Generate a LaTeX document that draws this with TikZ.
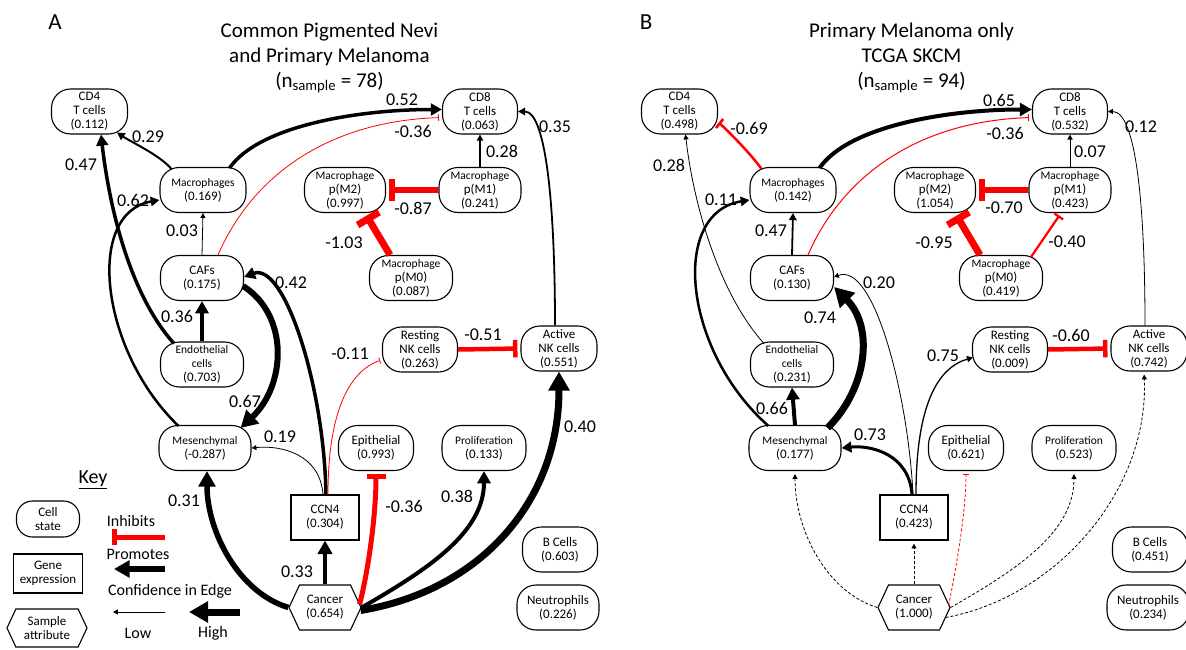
\documentclass[tikz,border=0pt]{standalone}
\usepackage{fontspec}
\setmainfont{Carlito}
\usetikzlibrary{arrows.meta,calc,shapes.symbols}
\newcommand\nfn{\fontsize{13}{14}\selectfont}
\newcommand\nfs{\fontsize{11.5}{14}\selectfont}
\newcommand\lfn{\fontsize{18}{18}\selectfont}
\newcommand\kfn{\fontsize{16}{16}\selectfont}
\newcommand\tfn{\fontsize{21}{25}\selectfont}
\tikzset{
 cell/.style={draw, line width=1.1pt, rounded corners=19pt, minimum height=45pt, inner sep=0.5pt, align=center, font=\nfn},
 gene/.style={draw, line width=1.3pt, minimum height=45pt, inner sep=0.5pt, align=center, font=\nfn},
 attr/.style={draw, line width=1.1pt, signal, signal to=east and west, signal pointer angle=130, minimum height=45pt, inner sep=0.5pt, align=center, font=\nfn},
 lab/.style={font=\lfn, inner sep=0pt},
 keytext/.style={font=\kfn, inner sep=0pt},
 pro/.style={line width=#1, -{Triangle[length=3pt 2.3, width=3pt 2.5]}},
 inh/.style={red, line width=#1, -{Bar[width=4pt 3]}, shorten >=3pt},
 dsh/.style={dash pattern=on 3pt off 2pt},
 ttl/.style={font=\tfn, anchor=base, inner sep=0pt},
}
\begin{document}
\begin{tikzpicture}[x=1pt,y=-1pt]
\useasboundingbox (0,0) rectangle (1186,650);
\fill[white] (0,0) rectangle (1186,650);
% ================= Panel A =================
\node[font=\fontsize{23}{23}\selectfont, anchor=base, inner sep=0pt] (aLet) at (55,30) {A};
\node[ttl] (aT1) at (329.5,37.7) {Common Pigmented Nevi};
\node[ttl] (aT2) at (329.5,62.3) {and Primary Melanoma};
\node[ttl] (aT3) at (329.5,87.7) {(n\textsubscript{sample} = 78)};

\node[cell, minimum width=76pt] (aCD4) at (89.5,111.5) {CD4\\T cells\\(0.112)};
\node[cell, minimum width=75pt] (aCD8) at (480,111.5) {CD8\\T cells\\(0.063)};
\node[cell, minimum width=86pt] (aMac) at (203,190) {{\nfs Macrophages}\\(0.169)};
\node[cell, minimum width=81pt] (aM2) at (345,190) {{\nfs Macrophage}\\p(M2)\\(0.997)};
\node[cell, minimum width=82pt] (aM1) at (480,190) {{\nfs Macrophage}\\p(M1)\\(0.241)};
\node[cell, minimum width=83pt] (aCAF) at (202,278) {CAFs\\(0.175)};
\node[cell, minimum width=83pt] (aM0) at (411,278) {{\nfs Macrophage}\\p(M0)\\(0.087)};
\node[cell, minimum width=83pt] (aEndo) at (202,364.5) {{\nfs Endothelial}\\{\nfs cells}\\(0.703)};
\node[cell, minimum width=75pt] (aRNK) at (420,349.5) {Resting\\NK cells\\(0.263)};
\node[cell, minimum width=76pt] (aANK) at (559,348.5) {Active\\NK cells\\(0.551)};
\node[cell, minimum width=92pt] (aMes) at (205,448) {{\nfs Mesenchymal}\\(-0.287)};
\node[cell, minimum width=75pt] (aEpi) at (376,448) {Epithelial\\(0.993)};
\node[cell, minimum width=84pt] (aPro) at (484,448) {{\nfs Proliferation}\\(0.133)};
\node[gene, minimum width=68pt] (aCCN) at (325,517.5) {CCN4\\(0.304)};
\node[attr, minimum width=72pt] (aCan) at (325,607.5) {Cancer\\(0.654)};
\node[cell, minimum width=75pt] (aB) at (560,549.5) {B Cells\\(0.603)};
\node[cell, minimum width=82pt] (aNeu) at (558,607.5) {Neutrophils\\(0.226)};

\draw[pro=2pt] ($(aMac.north west)+(12,2)$) .. controls +(-12,-14) and +(15,10) .. ($(aCD4.south east)+(-11,-2)$);
\draw[pro=3.5pt] ($(aEndo.north west)+(14,2)$) .. controls +(-45,-50) and +(8,70) .. ($(aCD4.south)+(11.5,0)$);
\draw[pro=2.5pt] ($(aMes.north west)+(20,1)$) .. controls +(-78,-75) and +(-75,13) .. ($(aMac.west)+(0,10)$);
\draw[pro=0.8pt] (aCAF.north) -- (aMac.south);
\draw[pro=3.5pt] ($(aMac.north east)+(-17,1)$) .. controls +(30,-43) and +(-81,0) .. ($(aCD8.west)+(0,-2)$);
\draw[inh=0.8pt] ($(aCAF.north)+(16,0)$) .. controls +(32,-74) and +(-120,4) .. ($(aCD8.west)+(0,6)$);
\draw[pro=1.3pt] (aM1.north) -- (aCD8.south);
\draw[pro=1.8pt] ($(aANK.north)+(-4,0)$) .. controls +(0,-120) and +(28,0) .. (aCD8.east);
\draw[inh=6pt] (aM1.west) -- (aM2.east);
\draw[inh=7pt] ($(aM0.north)+(-21,0)$) -- ($(aM2.south)+(20,0)$);
\draw[pro=4pt] (aEndo.north) -- (aCAF.south);
\draw[pro=6pt] ($(aCAF.east)+(-1,8)$) .. controls +(47,30) and +(45,-42) .. ($(aMes.north east)+(-11,3)$);
\draw[pro=3.5pt] ($(aCCN.north)+(1,0)$) .. controls +(-2,-110) and +(40,-15) .. ($(aCAF.east)+(0,-1)$);
\draw[pro=0.8pt] ($(aCCN.north)+(-2,0)$) .. controls +(-3,-40) and +(30,-3) .. (aMes.east);
\draw[inh=0.8pt] ($(aCCN.north)+(3,0)$) .. controls +(0,-80) and +(-35,12) .. ($(aRNK.west)+(1,10)$);
\draw[inh=4.5pt] (aRNK.east) -- (aANK.west);
\draw[pro=7pt] ($(aCan.east)+(-1,3)$) .. controls +(120,-20) and +(0,130) .. (aANK.south);
\draw[inh=5pt] ($(aCan.east)+(-2,-3)$) .. controls +(10,-40) and +(0,40) .. (aEpi.south);
\draw[pro=4pt] (aCan.east) .. controls +(70,-40) and +(0,60) .. (aPro.south);
\draw[pro=4.5pt] (aCan.north) -- (aCCN.south);
\draw[pro=5.5pt] (aCan.west) .. controls +(-50,-15) and +(0,60) .. ($(aMes.south)+(2,0)$);

\node[lab] (la1) at (148,137) {0.29};
\node[lab] (la2) at (81,165) {0.47};
\node[lab] (la3) at (133,200) {0.62};
\node[lab] (la4) at (182,231) {0.03};
\node[lab] (la5) at (402,100) {0.52};
\node[lab] (la6) at (413,131) {-0.36};
\node[lab] (la7) at (502,151) {0.28};
\node[lab] (la8) at (555,127) {0.35};
\node[lab] (la9) at (413,208) {-0.87};
\node[lab] (la10) at (344,243) {-1.03};
\node[lab] (la11) at (177,316) {0.36};
\node[lab] (la12) at (350,354) {-0.11};
\node[lab] (la13) at (483,335) {-0.51};
\node[lab] (la14) at (291,283) {0.42};
\node[lab] (la15) at (245,401) {0.67};
\node[lab] (la16) at (280,437) {0.19};
\node[lab] (la17) at (184,501) {0.31};
\node[lab] (la18) at (404,506) {-0.36};
\node[lab] (la19) at (457,496) {0.38};
\node[lab] (la20) at (297,572) {0.33};
\node[lab] (la21) at (580,427) {0.40};

% ================= Key =================
\node[font=\fontsize{20}{20}\selectfont, inner sep=0pt] (kKey) at (93,480) {\underline{Key}};
\node[cell, minimum width=63pt, minimum height=36pt, rounded corners=16pt] (kCell) at (48,519) {Cell\\state};
\node[gene, minimum width=69pt, minimum height=39pt] (kGene) at (48,573.5) {Gene\\expression};
\node[attr, minimum width=80pt, minimum height=38pt] (kAttr) at (47,628) {Sample\\attribute};
\node[keytext] (kInh) at (131,521) {Inhibits};
\coordinate (kI1) at (165,537); \coordinate (kI2) at (112,537);
\draw[red, line width=5pt, -{Bar[width=16pt]}] (kI1) -- (kI2);
\node[keytext] (kPro) at (138,554) {Promotes};
\coordinate (kP1) at (165,569); \coordinate (kP2) at (114,569);
\draw[pro=5.5pt] (kP1) -- (kP2);
\node[keytext] (kConf) at (170,591) {Confidence in Edge};
\coordinate (kL1) at (165,612); \coordinate (kL2) at (113,612);
\draw[pro=0.8pt] (kL1) -- (kL2);
\coordinate (kH1) at (240,612); \coordinate (kH2) at (189,612);
\draw[pro=7pt] (kH1) -- (kH2);
\node[keytext] (kLow) at (138,633) {Low};
\node[keytext] (kHigh) at (213,633) {High};

% ================= Panel B =================
\node[font=\fontsize{23}{23}\selectfont, anchor=base, inner sep=0pt] (bLet) at (646,30) {B};
\node[ttl] (bT1) at (911.5,37.7) {Primary Melanoma only};
\node[ttl] (bT2) at (911.5,62.3) {TCGA SKCM};
\node[ttl] (bT3) at (911.5,87.7) {(n\textsubscript{sample} = 94)};

\node[cell, minimum width=76pt] (bCD4) at (679.5,111.5) {CD4\\T cells\\(0.498)};
\node[cell, minimum width=75pt] (bCD8) at (1070,111.5) {CD8\\T cells\\(0.532)};
\node[cell, minimum width=86pt] (bMac) at (793,190) {{\nfs Macrophages}\\(0.142)};
\node[cell, minimum width=81pt] (bM2) at (935,190) {{\nfs Macrophage}\\p(M2)\\(1.054)};
\node[cell, minimum width=82pt] (bM1) at (1070,190) {{\nfs Macrophage}\\p(M1)\\(0.423)};
\node[cell, minimum width=83pt] (bCAF) at (792,278) {CAFs\\(0.130)};
\node[cell, minimum width=83pt] (bM0) at (1001,278) {{\nfs Macrophage}\\p(M0)\\(0.419)};
\node[cell, minimum width=83pt] (bEndo) at (792,364.5) {{\nfs Endothelial}\\{\nfs cells}\\(0.231)};
\node[cell, minimum width=75pt] (bRNK) at (1010,349.5) {Resting\\NK cells\\(0.009)};
\node[cell, minimum width=76pt] (bANK) at (1149,348.5) {Active\\NK cells\\(0.742)};
\node[cell, minimum width=92pt] (bMes) at (795,448) {{\nfs Mesenchymal}\\(0.177)};
\node[cell, minimum width=75pt] (bEpi) at (966,448) {Epithelial\\(0.621)};
\node[cell, minimum width=84pt] (bPro) at (1074,448) {{\nfs Proliferation}\\(0.523)};
\node[gene, minimum width=68pt] (bCCN) at (914,517.5) {CCN4\\(0.423)};
\node[attr, minimum width=72pt] (bCan) at (914,607.5) {Cancer\\(1.000)};
\node[cell, minimum width=75pt] (bB) at (1150,549.5) {B Cells\\(0.451)};
\node[cell, minimum width=82pt] (bNeu) at (1148,607.5) {Neutrophils\\(0.234)};

\draw[inh=2.5pt, shorten >=2pt] ($(bMac.north west)+(12,2)$) .. controls +(-8,-12) and +(10,8) .. ($(bCD4.east)+(-1,10)$);
\draw[pro=0.8pt] ($(bEndo.north west)+(14,2)$) .. controls +(-45,-50) and +(8,70) .. ($(bCD4.south)+(6,0)$);
\draw[pro=2.5pt] ($(bMes.north west)+(20,1)$) .. controls +(-85,-75) and +(-80,13) .. ($(bMac.west)+(0,10)$);
\draw[pro=1.8pt] (bCAF.north) -- (bMac.south);
\draw[pro=4pt] ($(bMac.north east)+(-17,1)$) .. controls +(30,-43) and +(-81,0) .. ($(bCD8.west)+(0,-2)$);
\draw[inh=1pt] ($(bCAF.north)+(16,0)$) .. controls +(32,-74) and +(-120,4) .. ($(bCD8.west)+(0,6)$);
\draw[pro=0.9pt] (bM1.north) -- (bCD8.south);
\draw[pro=0.8pt] ($(bANK.north)+(-4,0)$) .. controls +(0,-120) and +(28,0) .. (bCD8.east);
\draw[inh=6pt] (bM1.west) -- (bM2.east);
\draw[inh=7pt] ($(bM0.north)+(-21,0)$) -- ($(bM2.south)+(20,0)$);
\draw[inh=2.2pt] ($(bM0.north east)+(-12,2)$) -- ($(bM1.south)+(-9,0)$);
\draw[pro=4pt] (bMes.north) -- (bEndo.south);
\draw[pro=7pt] ($(bMes.north east)+(-14,3)$) .. controls +(40,-40) and +(40,40) .. ($(bCAF.east)+(0,9)$);
\draw[pro=0.8pt] ($(bCCN.north)+(-1,0)$) .. controls +(-5,-100) and +(40,-15) .. ($(bCAF.east)+(0,-1)$);
\draw[pro=3pt] ($(bCCN.north)+(-2,0)$) .. controls +(-3,-40) and +(30,-3) .. (bMes.east);
\draw[pro=1.3pt] ($(bCCN.north)+(2,0)$) .. controls +(0,-90) and +(-35,10) .. ($(bRNK.west)+(1,8)$);
\draw[inh=4.5pt] (bRNK.east) -- (bANK.west);
\draw[pro=0.8pt, dsh, shorten >=3pt] ($(bCan.east)+(-5,10)$) .. controls +(110,-20) and +(5,120) .. ($(bANK.south)+(-5,0)$);
\draw[inh=0.8pt, dsh] ($(bCan.east)+(-2,-2)$) .. controls +(8,-40) and +(0,40) .. (bEpi.south);
\draw[pro=0.8pt, dsh, shorten >=3pt] (bCan.east) .. controls +(70,-40) and +(0,60) .. (bPro.south);
\draw[pro=0.8pt, dsh, shorten >=3pt] (bCan.north) -- (bCCN.south);
\draw[pro=0.8pt, dsh, shorten >=3pt] (bCan.west) .. controls +(-50,-15) and +(0,60) .. (bMes.south);

\node[lab] (lb1) at (749,128) {-0.69};
\node[lab] (lb2) at (669,165) {0.28};
\node[lab] (lb3) at (721,200) {0.11};
\node[lab] (lb4) at (999,100) {0.65};
\node[lab] (lb5) at (1005,133) {-0.36};
\node[lab] (lb6) at (1090,152) {0.07};
\node[lab] (lb7) at (1141,127) {0.12};
\node[lab] (lb8) at (1004,208) {-0.70};
\node[lab] (lb9) at (934,243) {-0.95};
\node[lab] (lb10) at (1067,242) {-0.40};
\node[lab] (lb11) at (771,231) {0.47};
\node[lab] (lb12) at (879,283) {0.20};
\node[lab] (lb13) at (820,318) {0.74};
\node[lab] (lb14) at (943,356) {0.75};
\node[lab] (lb15) at (1071,335) {-0.60};
\node[lab] (lb16) at (772,408) {0.66};
\node[lab] (lb17) at (870,435) {0.73};
\end{tikzpicture}
\end{document}
